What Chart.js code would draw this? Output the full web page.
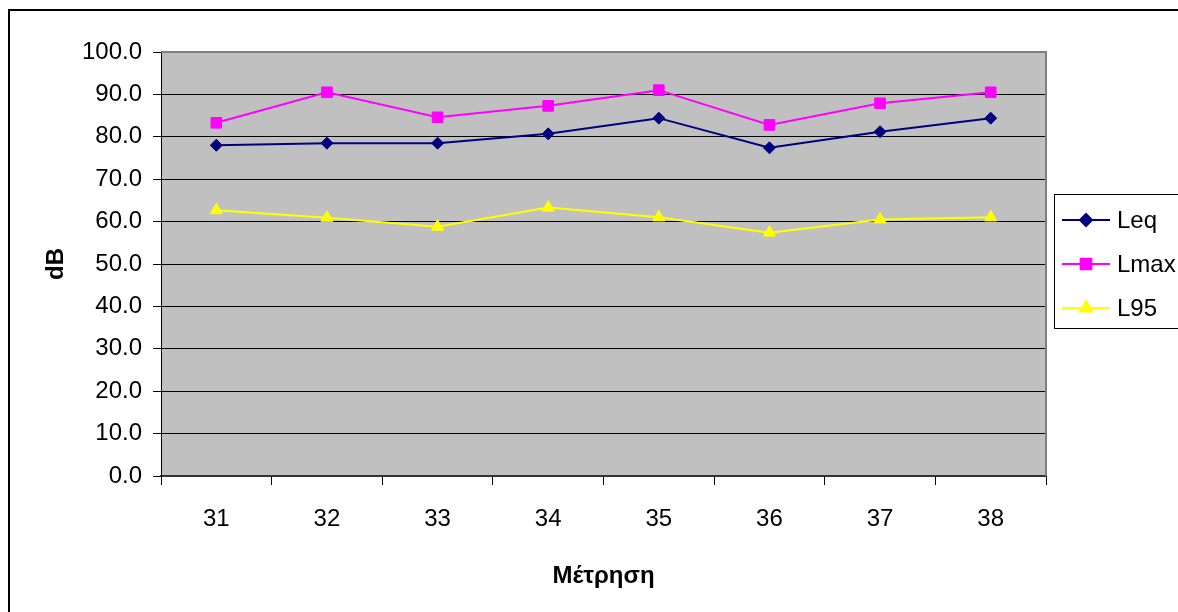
<!DOCTYPE html>
<html>
<head>
<meta charset="utf-8">
<title>Μέτρηση dB</title>
<script src="https://cdn.jsdelivr.net/npm/chart.js@4.4.1/dist/chart.umd.min.js"></script>
<style>
    html, body { margin: 0; padding: 0; background: #fff; }
    #wrap { width: 1178px; height: 612px; position: relative; overflow: hidden; }
</style>
</head>
<body>
<div id="wrap"><canvas id="noiseChart" width="1178" height="612"></canvas></div>
<script>
// Noise levels per measurement (dB)
const measurements = ['31', '32', '33', '34', '35', '36', '37', '38'];
const leqValues  = [78.0, 78.5, 78.5, 80.7, 84.4, 77.4, 81.2, 84.4];
const lmaxValues = [83.3, 90.5, 84.6, 87.3, 91.0, 82.8, 87.9, 90.5];
const l95Values  = [62.7, 60.9, 58.8, 63.3, 61.0, 57.4, 60.5, 61.0];
const yMin = 0, yMax = 100, yStep = 10;

const FONT = '"Liberation Sans", Arial, sans-serif';

// grey plot area with grey top/right edge, plus the outer chart frame
const plotFrame = {
    id: 'plotFrame',
    beforeDraw(chart) {
        const { ctx, chartArea: a } = chart;
        ctx.save();
        ctx.fillStyle = '#fff';
        ctx.fillRect(0, 0, chart.width, chart.height);
        ctx.strokeStyle = '#000';
        ctx.lineWidth = 2;
        ctx.strokeRect(9, 10, 1400, 1000);
        ctx.fillStyle = '#c0c0c0';
        ctx.fillRect(a.left, a.top, a.right - a.left, a.bottom - a.top);
        ctx.restore();
    },
    afterDatasetsDraw(chart) {
        const { ctx, chartArea: a } = chart;
        ctx.save();
        ctx.strokeStyle = '#808080';
        ctx.lineWidth = 2;
        ctx.beginPath();
        ctx.moveTo(a.left, a.top);
        ctx.lineTo(a.right, a.top);
        ctx.lineTo(a.right, a.bottom);
        ctx.stroke();
        ctx.restore();
    }
};

// legend box on the right: line sample with marker, then the label
const sideLegend = {
    id: 'sideLegend',
    afterDraw(chart) {
        const ctx = chart.ctx;
        ctx.save();
        ctx.fillStyle = '#fff';
        ctx.fillRect(1055, 195, 200, 133);
        ctx.strokeStyle = '#000';
        ctx.lineWidth = 1;
        ctx.strokeRect(1054.5, 194.5, 200, 134);
        ctx.font = '24px ' + FONT;
        ctx.textBaseline = 'middle';
        chart.data.datasets.forEach((ds, i) => {
            const y = 220 + i * 44;
            ctx.strokeStyle = ds.borderColor;
            ctx.lineWidth = 2;
            ctx.beginPath();
            ctx.moveTo(1062, y);
            ctx.lineTo(1110, y);
            ctx.stroke();
            ctx.fillStyle = ds.pointBackgroundColor;
            ctx.strokeStyle = ds.pointBorderColor;
            Chart.helpers.drawPoint(ctx, {
                pointStyle: ds.pointStyle, rotation: 0,
                radius: ds.pointRadius, borderWidth: 1
            }, 1086, y);
            ctx.fillStyle = '#000';
            ctx.fillText(ds.label, 1117, y + 1);
        });
        ctx.restore();
    }
};

function series(label, data, color, style, radius) {
    return {
        label, data,
        borderColor: color,
        backgroundColor: color,
        borderWidth: 2,
        pointStyle: style,
        pointRadius: radius,
        pointHoverRadius: radius,
        pointBackgroundColor: color,
        pointBorderColor: color,
        pointBorderWidth: 1,
        tension: 0
    };
}

new Chart(document.getElementById('noiseChart'), {
    type: 'line',
    data: {
        labels: measurements,
        datasets: [
            series('Leq', leqValues, '#000080', 'rectRot', 6),
            series('Lmax', lmaxValues, '#ff00ff', 'rect', 7.5),
            series('L95', l95Values, '#ffff00', 'triangle', 7)
        ]
    },
    options: {
        responsive: false,
        animation: false,
        layout: { padding: { top: 52, right: 132, left: 0, bottom: 0 } },
        plugins: {
            legend: { display: false },
            tooltip: { enabled: false }
        },
        scales: {
            x: {
                offset: true,
                afterFit: s => { s.height = 136; },
                grid: {
                    offset: true,
                    drawOnChartArea: false,
                    drawTicks: true,
                    tickLength: 9,
                    tickColor: '#000'
                },
                border: { color: '#333', width: 2 },
                ticks: { color: '#000', font: { family: FONT, size: 24 }, padding: 20 },
                title: {
                    display: true, text: 'Μέτρηση', color: '#000',
                    font: { family: FONT, size: 24, weight: 'bold' },
                    padding: { bottom: 21 }
                }
            },
            y: {
                min: yMin, max: yMax,
                afterFit: s => { s.width = 161; },
                grid: {
                    color: ctx => ctx.tick && ctx.tick.value === yMax ? '#808080' : '#000',
                    tickColor: '#000',
                    tickLength: 8,
                    lineWidth: 1
                },
                border: { color: '#000', width: 1 },
                ticks: {
                    stepSize: yStep,
                    color: '#000',
                    padding: 11,
                    font: { family: FONT, size: 24 },
                    callback: v => v.toFixed(1)
                },
                title: {
                    display: true, text: 'dB', color: '#000',
                    font: { family: FONT, size: 24, weight: 'bold' },
                    padding: { top: 42 }
                }
            }
        }
    },
    plugins: [plotFrame, sideLegend]
});
</script>
</body>
</html>
